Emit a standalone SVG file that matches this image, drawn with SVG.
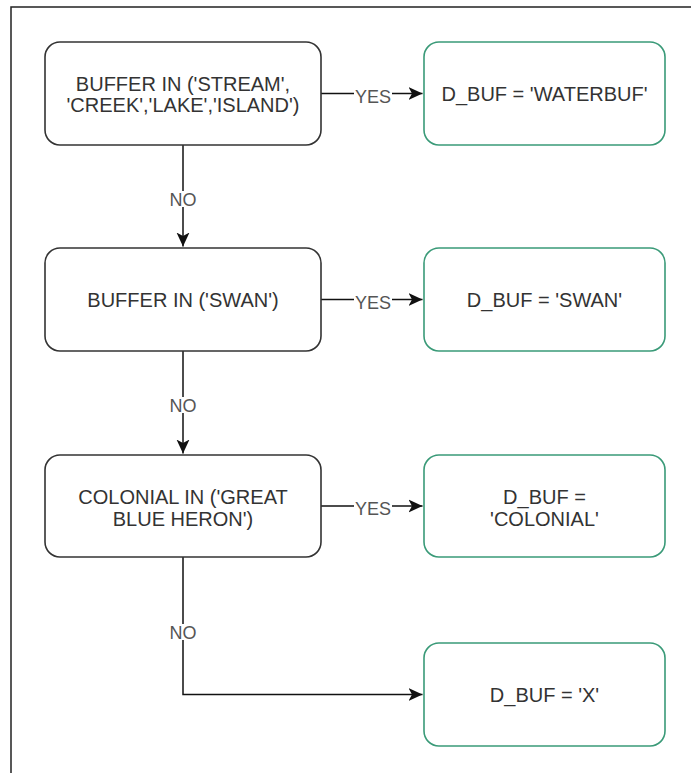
<svg xmlns="http://www.w3.org/2000/svg" width="691" height="773" viewBox="0 0 691 773">
  <style>
    .frame { fill: none; stroke: #222; stroke-width: 1.5; }
    .decision rect { fill: #fff; stroke: #333; stroke-width: 1.6; }
    .result rect { fill: #fff; stroke: #3a9a78; stroke-width: 1.6; }
    .node text { font-family: "Liberation Sans", Arial, sans-serif; font-size: 20px; fill: #333; text-anchor: middle; }
    .edge { fill: none; stroke: #111; stroke-width: 1.5; }
    .lbl-bg { fill: #fff; }
    .lbl { font-family: "Liberation Sans", Arial, sans-serif; font-size: 18px; fill: #555; text-anchor: middle; }
  </style>
  <defs>
    <marker id="arrow" markerUnits="userSpaceOnUse" markerWidth="16" markerHeight="14" refX="14" refY="7" orient="auto">
      <path d="M14,7 L0,0.5 L3.5,7 L0,13.5 Z" fill="#111"/>
    </marker>
  </defs>

  <rect width="691" height="773" fill="#fff"/>
  <path class="frame" d="M11,773 V7 H691"/>

  <!-- connectors -->
  <g id="connectors">
    <path class="edge" d="M321,93.5 H422.5" marker-end="url(#arrow)"/>
    <path class="edge" d="M321,299.5 H422.5" marker-end="url(#arrow)"/>
    <path class="edge" d="M321,506 H422.5" marker-end="url(#arrow)"/>
    <path class="edge" d="M183,145 V246.5" marker-end="url(#arrow)"/>
    <path class="edge" d="M183,351 V453.5" marker-end="url(#arrow)"/>
    <path class="edge" d="M183,557 V694.5 H422.5" marker-end="url(#arrow)"/>

    <rect class="lbl-bg" x="354" y="87" width="38" height="16"/>
    <text class="lbl" x="373" y="102.5">YES</text>
    <rect class="lbl-bg" x="354" y="293" width="38" height="16"/>
    <text class="lbl" x="373" y="308.5">YES</text>
    <rect class="lbl-bg" x="354" y="500" width="38" height="16"/>
    <text class="lbl" x="373" y="515">YES</text>

    <rect class="lbl-bg" x="168" y="191" width="30" height="16"/>
    <text class="lbl" x="183" y="205.5">NO</text>
    <rect class="lbl-bg" x="168" y="397" width="30" height="16"/>
    <text class="lbl" x="183" y="411.5">NO</text>
    <rect class="lbl-bg" x="168" y="624" width="30" height="16"/>
    <text class="lbl" x="183" y="638.5">NO</text>
  </g>

  <!-- decision nodes -->
  <g id="check-water" class="node decision">
    <rect x="45" y="42" width="276" height="103" rx="15"/>
    <text x="183" y="90.5">BUFFER IN ('STREAM',</text>
    <text x="183" y="111.5">'CREEK','LAKE','ISLAND')</text>
  </g>
  <g id="check-swan" class="node decision">
    <rect x="45" y="248" width="276" height="103" rx="15"/>
    <text x="183" y="307">BUFFER IN ('SWAN')</text>
  </g>
  <g id="check-colonial" class="node decision">
    <rect x="45" y="455" width="276" height="102" rx="15"/>
    <text x="183" y="503.5">COLONIAL IN ('GREAT</text>
    <text x="183" y="525.5">BLUE HERON')</text>
  </g>

  <!-- result nodes -->
  <g id="set-waterbuf" class="node result">
    <rect x="424" y="42" width="241" height="103" rx="15"/>
    <text x="544.5" y="101">D_BUF = 'WATERBUF'</text>
  </g>
  <g id="set-swan" class="node result">
    <rect x="424" y="248" width="241" height="103" rx="15"/>
    <text x="544.5" y="307">D_BUF = 'SWAN'</text>
  </g>
  <g id="set-colonial" class="node result">
    <rect x="424" y="455" width="241" height="102" rx="15"/>
    <text x="544.5" y="503.5">D_BUF =</text>
    <text x="544.5" y="525.5">'COLONIAL'</text>
  </g>
  <g id="set-x" class="node result">
    <rect x="424" y="643" width="241" height="103" rx="15"/>
    <text x="544.5" y="702">D_BUF = 'X'</text>
  </g>
</svg>
